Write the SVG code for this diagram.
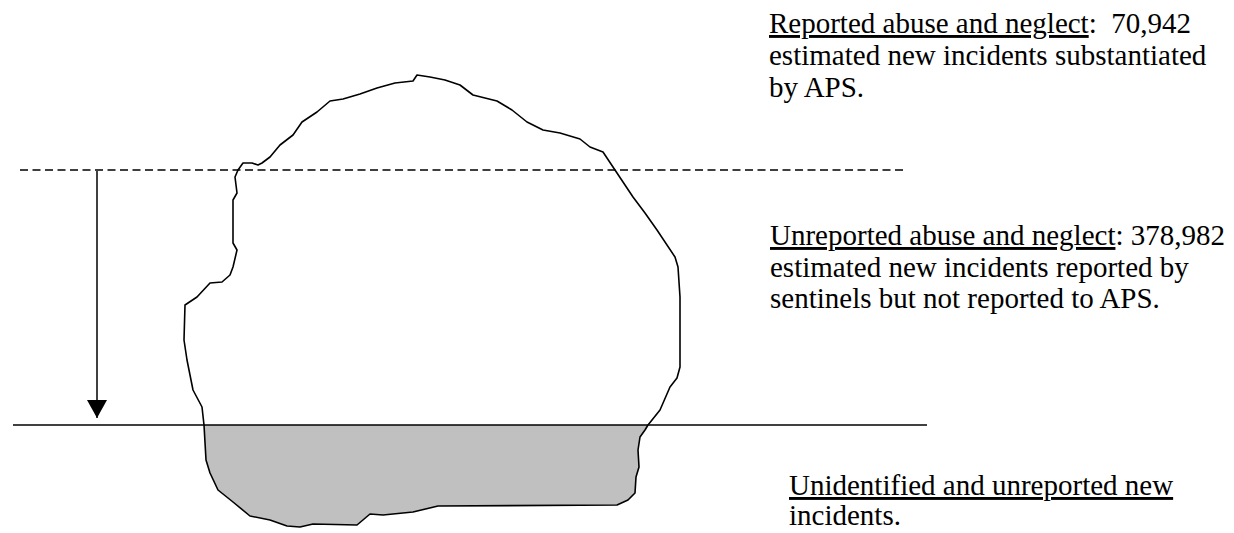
<svg xmlns="http://www.w3.org/2000/svg" width="1234" height="533" viewBox="0 0 1234 533">
  <style>
    .lbl { font-family: "Liberation Serif", "DejaVu Serif", serif; font-size: 29px; fill: #000; white-space: pre; }
    .u { text-decoration: underline; }
    .outline { fill: none; stroke: #000; stroke-width: 1.6; stroke-linejoin: round; }
  </style>
  <defs>
    <path id="blobShape" d="M238,170 L243,163 L252,163 L258,165 L262,163 L270,157 L280,145 L293,135 L302,122 L317,112 L330,101 L343,99 L360,94 L377,88 L395,83 L413,81 L417,75 L430,77 L445,80 L460,85 L473,95 L497,101 L512,110 L527,122 L543,130 L560,133 L580,139 L590,147 L603,152 L615,170 L633,197 L645,213 L657,230 L675,257 L678,267 L680,297 L680,367 L677,378 L670,387 L660,410 L648,425 L645,430 L640,437 L638,450 L639,467 L636,477 L635,493 L628,500 L617,505 L438,506 L413,512 L383,515 L370,514 L357,525 L313,524 L300,527 L287,526 L270,520 L250,516 L233,502 L218,490 L210,473 L206,460 L204,425 L202,407 L193,390 L187,360 L184,340 L185,305 L197,297 L210,283 L222,282 L230,275 L233,267 L237,250 L233,243 L233,200 L237,193 L235,177 Z"/>
    <clipPath id="below">
      <rect x="0" y="425" width="1234" height="108"/>
    </clipPath>
    <marker id="arrow" markerWidth="18" markerHeight="20" refX="18" refY="10" orient="auto" markerUnits="userSpaceOnUse" viewBox="0 0 18 20">
      <path d="M0,0 L18,10 L0,20 Z" fill="#000"/>
    </marker>
  </defs>

  <g id="blob">
    <use href="#blobShape" fill="#c0c0c0" clip-path="url(#below)"/>
    <use href="#blobShape" class="outline"/>
  </g>

  <g id="connectors">
    <line id="reported-line" x1="20" y1="170" x2="903" y2="170" stroke="#000" stroke-width="1.5" stroke-dasharray="8,4.5"/>
    <line id="waterline" x1="13" y1="425" x2="927" y2="425" stroke="#000" stroke-width="1.5"/>
    <line id="depth-arrow" x1="97" y1="171" x2="97" y2="418" stroke="#000" stroke-width="1.5" marker-end="url(#arrow)"/>
  </g>

  <g id="label-reported">
    <text class="lbl" x="769" y="33"><tspan class="u">Reported abuse and neglect</tspan>:  70,942</text>
    <text class="lbl" x="769" y="65">estimated new incidents substantiated</text>
    <text class="lbl" x="769" y="97">by APS.</text>
  </g>

  <g id="label-unreported">
    <text class="lbl" x="770" y="245"><tspan class="u">Unreported abuse and neglect</tspan>: 378,982</text>
    <text class="lbl" x="770" y="277">estimated new incidents reported by</text>
    <text class="lbl" x="770" y="308">sentinels but not reported to APS.</text>
  </g>

  <g id="label-unidentified">
    <text class="lbl" x="789" y="495"><tspan class="u">Unidentified and unreported new</tspan></text>
    <text class="lbl" x="789" y="525">incidents.</text>
  </g>
</svg>
